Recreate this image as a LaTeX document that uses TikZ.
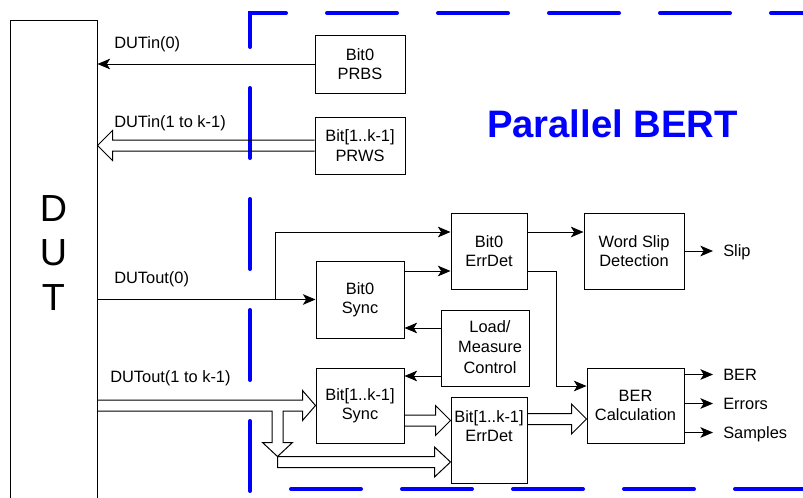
\documentclass[tikz,border=0pt]{standalone}
\usepackage{fontspec}
\setmainfont{Liberation Sans}
\usetikzlibrary{arrows.meta,calc}
\definecolor{bertblue}{RGB}{0,0,255}
\newcommand{\hollowR}[2]{%
  \draw[wire] ($(#1)+(0,-5.5)$) -- ($(#2)+(-15,-5.5)$) -- ($(#2)+(-15,-15)$) -- (#2) -- ($(#2)+(-15,15)$) -- ($(#2)+(-15,5.5)$) -- ($(#1)+(0,5.5)$);}
\newcommand{\hollowL}[2]{%
  \draw[wire] ($(#1)+(0,-5.5)$) -- ($(#2)+(15,-5.5)$) -- ($(#2)+(15,-15)$) -- (#2) -- ($(#2)+(15,15)$) -- ($(#2)+(15,5.5)$) -- ($(#1)+(0,5.5)$);}
\begin{document}
\begin{tikzpicture}[x=0.75pt,y=-0.75pt,
  wire/.style={draw=black,line width=0.75pt},
  arr/.style={wire,-{Stealth[length=9.5pt,width=8pt,inset=2.5pt]}},
  txt/.style={font=\fontsize{12.3}{14.5}\selectfont},
  blk/.style={draw=black,line width=0.75pt,align=center,inner sep=0pt,txt},
  lbl/.style={anchor=west,inner sep=0pt,txt},
  outlbl/.style={anchor=west,inner xsep=7.5pt,inner ysep=0pt,text height=8.8pt,text depth=0pt,txt},
  bluedash/.style={draw=bertblue,line width=3pt,line cap=round,dash pattern=on 52.5pt off 30.75pt}]
\useasboundingbox (0,0) rectangle (803,497);
\clip (0,0) rectangle (803,497);
\fill[white] (0,0) rectangle (803,497);

% blue boundary
\draw[bluedash] (250,491) -- (250,13) -- (830,13);
\draw[bluedash,dash phase=52.5pt] (250,489) -- (830,489);
\node[font=\bfseries\fontsize{28.7}{34}\selectfont,text=bertblue,inner sep=0pt] (title) at (612.5,124) {Parallel BERT};

% DUT
\node[blk,minimum width=87*0.75pt,minimum height=510*0.75pt] (dut) at (53.5,275) {};
\node[align=center,inner sep=0pt,font=\fontsize{28.3}{33.5}\selectfont] (dutlbl) at (53.5,253) {D\\U\\T};

% blocks
\node[blk,minimum width=90*0.75pt,minimum height=58*0.75pt] (prbs) at (360,64) {Bit0\\PRBS};
\node[blk,minimum width=90*0.75pt,minimum height=57*0.75pt] (prws) at (360,145.5) {Bit[1..k-1]\\PRWS};
\node[blk,minimum width=76*0.75pt,minimum height=76*0.75pt] (errdet0) at (489,251) {Bit0\\ErrDet};
\node[blk,minimum width=100*0.75pt,minimum height=76*0.75pt] (wordslip) at (634,251) {Word Slip\\Detection};
\node[blk,minimum width=88*0.75pt,minimum height=77*0.75pt] (sync0) at (360,299.5) {Bit0\\Sync};
\node[blk,minimum width=88*0.75pt,minimum height=76*0.75pt] (load) at (485,348) {};
\node[align=center,inner sep=0pt,font=\fontsize{12.3}{15.4}\selectfont] (loadtxt) at (490,347) {Load/\\Measure\\Control};
\node[blk,minimum width=88*0.75pt,minimum height=75*0.75pt] (sync1) at (360,405.5) {Bit[1..k-1]\\Sync};
\node[blk,minimum width=76*0.75pt,minimum height=86*0.75pt] (errdet1) at (489,440) {};
\node[align=center,inner sep=0pt,txt] (errdet1txt) at (489,426) {Bit[1..k-1]\\ErrDet};
\node[blk,minimum width=97*0.75pt,minimum height=75*0.75pt] (bercalc) at (635.5,405.5) {BER\\Calculation};

% port labels
\node[lbl] (lin0) at (114,44) {DUTin(0)};
\node[lbl] (lin1) at (114,123) {DUTin(1 to k-1)};
\node[lbl] (lout0) at (114,279) {DUTout(0)};
\node[lbl] (lout1) at (110,378) {DUTout(1 to k-1)};

% outputs
\node[outlbl] (oslip) at (713,251) {Slip};
\node[outlbl] (ober) at (713,374.5) {BER};
\node[outlbl] (oerr) at (713,403.5) {Errors};
\node[outlbl] (osmp) at (713,432.5) {Samples};

% single-line connectors
\draw[arr] (prbs.west) -- (prbs.west -| dut.east);
\draw[arr] (sync0.west -| dut.east) -- (sync0.west);
\coordinate (br0) at ($(sync0.west)+(-40,0)$);
\coordinate (e0a) at ($(errdet0.west)+(0,-19)$);
\draw[arr] (br0) |- (e0a);
\coordinate (e0b) at ($(errdet0.west)+(0,20)$);
\draw[arr] (e0b -| sync0.east) -- (e0b);
\coordinate (e0c) at ($(errdet0.east)+(0,-19)$);
\draw[arr] (e0c) -- (e0c -| wordslip.west);
\coordinate (e0d) at ($(errdet0.east)+(0,20)$);
\coordinate (bA) at ($(bercalc.west)+(0,-19.5)$);
\draw[arr] (e0d) -- ++(29,0) |- (bA);
\coordinate (l1) at ($(load.west)+(0,-20)$);
\draw[arr] (l1) -- (l1 -| sync0.east);
\coordinate (l2) at ($(load.west)+(0,28)$);
\draw[arr] (l2) -- (l2 -| sync1.east);
\draw[arr] (oslip.west -| wordslip.east) -- (oslip.west);
\draw[arr] (ober.west -| bercalc.east) -- (ober.west);
\draw[arr] (oerr.west -| bercalc.east) -- (oerr.west);
\draw[arr] (osmp.west -| bercalc.east) -- (osmp.west);

% hollow (bus) connectors
\coordinate (a1) at (prws.west);
\coordinate (a1t) at (prws.west -| dut.east);
\hollowL{a1}{a1t}
\coordinate (a3) at ($(sync1.east)+(0,15)$);
\coordinate (a3t) at (a3 -| errdet1.west);
\hollowR{a3}{a3t}
\coordinate (a4t) at ($(bercalc.west)+(0,13.5)$);
\coordinate (a4) at (a4t -| errdet1.east);
\hollowR{a4}{a4t}

% DUTout(1 to k-1) bus with branch
\coordinate (S) at (sync1.west);
\coordinate (SD) at (sync1.west -| dut.east);
\coordinate (E) at (errdet1.west);
\coordinate (bx) at ($(S)+(-38,0)$);
\coordinate (by) at ($(E)+(0,16.5)$);
\coordinate (T) at (bx |- by);
\draw[wire] ($(SD)+(0,-5.5)$) -- ($(S)+(-13,-5.5)$) -- ($(S)+(-13,-15)$) -- (S)
  -- ($(S)+(-13,15)$) -- ($(S)+(-13,5.5)$) -- ($(S)+(-32.5,5.5)$)
  -- ($(T)+(5.5,-14)$) -- ($(T)+(15,-14)$) -- (T) -- ($(T)+(-15,-14)$)
  -- ($(T)+(-5.5,-14)$) -- ($(S)+(-43.5,5.5)$) -- ($(SD)+(0,5.5)$);
\draw[wire] (T) -- ($(E)+(-16,16.5)$) -- ($(E)+(-16,7)$) -- ($(E)+(0,22)$)
  -- ($(E)+(-16,37)$) -- ($(E)+(-16,27.5)$) -- ($(T)+(0,11)$) -- cycle;
\end{tikzpicture}
\end{document}
